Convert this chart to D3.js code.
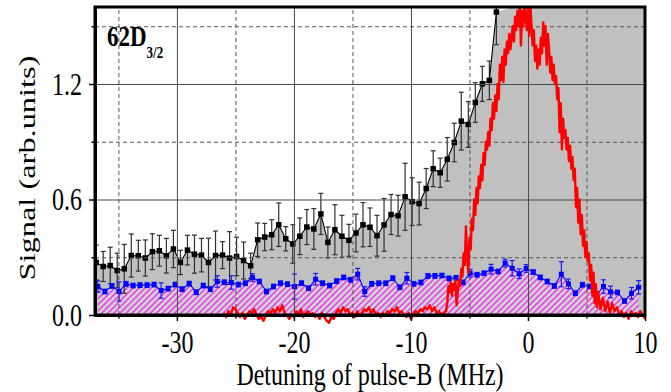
<!DOCTYPE html>
<html lang="en">
<head>
    <meta charset="UTF-8">
    <title>62D3/2 signal vs detuning</title>
    <script src="https://cdn.jsdelivr.net/npm/d3@7/dist/d3.min.js"></script>
    <style>
        body { margin: 0; background: #fff; }
        svg text { font-family: "Liberation Serif", "Times New Roman", serif; fill: #000; }
        svg g.axis path, svg g.axis line { stroke: #000; }
        svg g.axis path { stroke-width: 3; }
        svg g.axis line { stroke-width: 1.5; }
        svg g.axis text { font-size: 24px; font-family: "Liberation Serif", serif; }
        svg g.grid path { display: none; }
        /* the original figure is a bit taller than wide, text included */
        svg text.stretch { transform-box: fill-box; transform-origin: center; transform: scaleY(1.3); }
    </style>
</head>
<body>
<script>
    //black series (squares with error bars)
    var blackX = [-36.9,-36.3,-35.7,-35.1,-34.5,-33.9,-33.3,-32.7,-32.1,-31.5,
                  -30.9,-30.3,-29.7,-29.1,-28.5,-27.9,-27.3,-26.7,-26.1,-25.5,
                  -24.9,-24.3,-23.7,-23.1,-22.5,-21.9,-21.3,-20.7,-20.1,-19.5,
                  -18.9,-18.3,-17.7,-17.1,-16.5,-15.9,-15.3,-14.7,-14.1,-13.5,
                  -12.9,-12.3,-11.7,-11.1,-10.5,-9.9,-9.3,-8.7,-8.1,-7.5,
                  -6.9,-6.3,-5.7,-5.1,-4.5,-3.9,-3.3,-2.7];
    var blackY = [0.273,0.252,0.257,0.231,0.240,0.309,0.308,0.296,0.329,0.334,
                  0.308,0.343,0.273,0.337,0.316,0.311,0.273,0.309,0.311,0.296,
                  0.304,0.283,0.256,0.391,0.405,0.417,0.469,0.396,0.369,0.409,
                  0.457,0.447,0.525,0.377,0.443,0.409,0.388,0.426,0.469,0.456,
                  0.412,0.468,0.522,0.516,0.614,0.589,0.579,0.657,0.760,0.739,
                  0.809,0.896,1.007,0.990,1.104,1.201,1.219,1.574];
    var blackErr = [0.09,0.078,0.095,0.09,0.127,0.112,0.08,0.094,0.093,0.08,
                    0.09,0.097,0.063,0.077,0.099,0.087,0.126,0.127,0.07,0.137,
                    0.10,0.096,0.065,0.087,0.071,0.078,0.113,0.063,0.10,0.095,
                    0.091,0.106,0.107,0.08,0.13,0.109,0.083,0.098,0.115,0.10,
                    0.106,0.137,0.104,0.106,0.174,0.124,0.111,0.104,0.093,0.076,
                    0.113,0.10,0.15,0.119,0.103,0.091,0.10,0.17];

    //blue series
    var blueX = [-36.75,-36.15,-35.55,-34.95,-34.35,-33.75,-33.15,-32.55,-31.95,-31.35,
                 -30.75,-30.15,-29.55,-28.95,-28.35,-27.75,-27.15,-26.55,-25.95,-25.35,
                 -24.75,-24.15,-23.55,-22.95,-22.35,-21.75,-21.15,-20.55,-19.95,-19.35,
                 -18.75,-18.15,-17.55,-16.95,-16.35,-15.75,-15.15,-14.55,-13.95,-13.35,
                 -12.75,-12.15,-11.55,-10.95,-10.35,-9.75,-9.15,-8.55,-7.95,-7.35,
                 -6.75,-6.15,-5.55,-4.95,-4.35,-3.75,-3.15,-2.55,-1.95,-1.35,
                 -0.75,-0.15,0.45,1.05,1.65,2.25,2.85,3.45,4.05,4.65,
                 5.25,5.85,6.45,7.05,7.65,8.25,8.85,9.45];
    var blueY = [0.148,0.122,0.151,0.122,0.162,0.153,0.155,0.155,0.158,0.127,
                 0.137,0.158,0.134,0.163,0.118,0.153,0.134,0.174,0.170,0.169,
                 0.158,0.165,0.195,0.174,0.122,0.148,0.165,0.160,0.148,0.165,
                 0.139,0.186,0.165,0.153,0.176,0.195,0.183,0.212,0.122,0.162,
                 0.165,0.165,0.191,0.144,0.191,0.162,0.169,0.203,0.203,0.205,
                 0.190,0.193,0.169,0.217,0.209,0.217,0.238,0.226,0.270,0.243,
                 0.214,0.242,0.223,0.195,0.174,0.151,0.212,0.162,0.113,0.157,
                 0.148,0.103,0.148,0.120,0.117,0.073,0.113,0.144];
    var blueErr = [0.03,0.012,0.012,0.05,0.012,0.012,0.012,0.012,0.012,0.04,
                   0.012,0.012,0.012,0.012,0.012,0.012,0.012,0.03,0.012,0.035,
                   0.012,0.012,0.02,0.012,0.012,0.012,0.012,0.012,0.065,0.012,
                   0.012,0.03,0.012,0.012,0.012,0.012,0.012,0.03,0.025,0.012,
                   0.012,0.012,0.012,0.012,0.03,0.012,0.012,0.012,0.012,0.012,
                   0.012,0.012,0.012,0.02,0.012,0.012,0.025,0.012,0.02,0.04,
                   0.025,0.02,0.012,0.012,0.012,0.012,0.065,0.025,0.012,0.012,
                   0.012,0.012,0.035,0.03,0.012,0.012,0.03,0.035];

    //red trace: coarse sampling on the flat parts, finer over the peak
    var redX = [-26.0,-25.8,-25.6,-25.4,-25.2,-25.0,-24.8,-24.6,-24.4,-24.2,
                -24.0,-23.8,-23.6,-23.4,-23.2,-23.0,-22.8,-22.6,-22.4,-22.2,
                -22.0,-21.8,-21.6,-21.4,-21.2,-21.0,-20.8,-20.6,-20.4,-20.2,
                -20.0,-19.8,-19.6,-19.4,-19.2,-19.0,-18.8,-18.6,-18.4,-18.2,
                -18.0,-17.8,-17.6,-17.4,-17.2,-17.0,-16.8,-16.6,-16.4,-16.2,
                -16.0,-15.8,-15.6,-15.4,-15.2,-15.0,-14.8,-14.6,-14.4,-14.2,
                -14.0,-13.8,-13.6,-13.4,-13.2,-13.0,-12.8,-12.6,-12.4,-12.2,
                -12.0,-11.8,-11.6,-11.4,-11.2,-11.0,-10.8,-10.6,-10.4,-10.2,
                -10.0,-9.8,-9.6,-9.4,-9.2,-9.0,-8.8,-8.6,-8.4,-8.2,
                -8.0,-7.8,-7.6,-7.4,-7.2,
                -7.0,-6.9,-6.8,-6.7,-6.6,-6.5,-6.4,-6.3,-6.2,-6.1,
                -6.0,-5.9,-5.8,-5.7,-5.6,-5.5,-5.4,-5.3,-5.2,-5.1,
                -5.0,-4.9,-4.8,-4.7,-4.6,-4.5,-4.4,-4.3,-4.2,-4.1,
                -4.0,-3.9,-3.8,-3.7,-3.6,-3.5,-3.4,-3.3,-3.2,-3.1,
                -3.0,-2.9,-2.8,-2.7,-2.6,-2.5,-2.4,-2.3,-2.2,-2.1,
                -2.0,-1.9,-1.8,-1.7,-1.6,-1.5,-1.4,-1.3,-1.2,-1.1,
                -1.0,-0.9,-0.8,-0.7,-0.6,-0.5,-0.4,-0.3,-0.2,-0.1,
                0.0,0.1,0.2,0.3,0.4,0.5,0.6,0.7,0.8,0.9,
                1.0,1.1,1.2,1.3,1.4,1.5,1.6,1.7,1.8,1.9,
                2.0,2.1,2.2,2.3,2.4,2.5,2.6,2.7,2.8,2.9,
                3.0,3.1,3.2,3.3,3.4,3.5,3.6,3.7,3.8,3.9,
                4.0,4.1,4.2,4.3,4.4,4.5,4.6,4.7,4.8,4.9,
                5.0,5.1,5.2,5.3,5.4,5.5,5.6,5.7,5.8,5.9,
                6.0,
                6.2,6.4,6.6,6.8,7.0,7.2,7.4,7.6,7.8,8.0,
                8.2,8.4,8.6,8.8,9.0,9.2,9.4,9.6,9.8,10.0];
    var redY = [0.01,-0.01,0.02,0.00,0.04,0.03,0.01,-0.01,0.01,-0.02,
                0.00,0.02,0.01,0.03,0.00,-0.02,-0.01,-0.03,0.00,0.02,
                0.01,0.03,0.01,0.04,0.02,0.05,0.01,0.00,-0.02,0.00,
                -0.01,0.02,0.00,0.03,-0.01,0.01,0.02,0.00,0.01,-0.01,
                0.00,-0.02,0.01,-0.01,-0.03,-0.04,-0.01,-0.02,0.01,0.03,
                0.01,0.04,0.02,0.03,0.00,0.01,-0.01,0.02,0.00,0.01,
                0.03,0.02,0.04,0.01,0.03,0.00,0.01,-0.01,0.01,0.00,
                0.02,0.01,0.03,0.02,0.04,0.01,0.02,0.00,-0.01,0.01,
                -0.02,0.00,0.02,0.01,0.03,0.02,0.04,0.03,0.05,0.02,
                0.04,0.01,0.02,0.00,0.01,
                0.02,0.06,0.15,0.12,0.17,0.10,0.16,0.13,0.18,0.05,
                0.12,0.18,0.15,0.24,0.20,0.32,0.26,0.46,0.30,0.22,
                0.40,0.34,0.50,0.44,0.60,0.52,0.66,0.58,0.72,0.66,
                0.78,0.70,0.84,0.78,0.90,0.86,0.95,0.88,1.02,0.96,
                1.10,1.02,1.14,1.06,1.20,1.12,1.30,1.22,1.34,1.21,
                1.38,1.30,1.42,1.36,1.46,1.38,1.44,1.50,1.42,1.55,
                1.48,1.58,1.50,1.62,1.40,1.58,1.50,1.62,1.55,1.48,
                1.60,1.45,1.62,1.50,1.40,1.48,1.32,1.40,1.28,1.38,
                1.30,1.44,1.36,1.52,1.40,1.50,1.30,1.46,1.38,1.26,
                1.34,1.22,1.30,1.20,1.24,1.12,1.18,0.95,1.10,0.86,
                1.02,0.92,0.96,0.86,0.92,0.80,0.88,0.76,0.82,0.70,
                0.76,0.56,0.66,0.48,0.60,0.42,0.52,0.36,0.44,0.30,
                0.38,0.28,0.32,0.18,0.26,0.10,0.22,0.06,0.16,0.04,
                0.12,
                0.03,0.09,0.02,0.07,0.01,0.06,0.02,0.04,0.00,0.02,
                -0.01,0.01,-0.02,0.02,0.00,0.01,-0.01,0.02,0.00,-0.02];

    //tick values
    var xMajor = [-30, -20, -10, 0, 10];
    var xMinor = [-35, -25, -15, -5, 5];
    var yMajor = [0, 0.6, 1.2];
    var yMinor = [0.3, 0.9, 1.5];

    //width, height and plot box
    var w = 671;
    var h = 392;
    var pLeft = 95, pRight = 645, pTop = 7, pBottom = 315;

    var xScale = d3.scaleLinear().domain([-37, 10]).range([pLeft, pRight]);
    var yScale = d3.scaleLinear().domain([0, 1.6]).range([pBottom, pTop]);

    var black = blackX.map(function(d, i) { return [d, blackY[i], blackErr[i]]; });
    var blue = blueX.map(function(d, i) { return [d, blueY[i], blueErr[i]]; });
    var red = redX.map(function(d, i) { return [d, redY[i]]; });

    var svg = d3.select('body')
                .append('svg')
                .attr('width', w)
                .attr('height', h);

    var defs = svg.append('defs');
    defs.append('clipPath').attr('id', 'plot')
        .append('rect')
        .attr('x', pLeft).attr('y', pTop)
        .attr('width', pRight - pLeft).attr('height', pBottom - pTop);
    //red trace may dip a bit under the axis
    defs.append('clipPath').attr('id', 'plotlow')
        .append('rect')
        .attr('x', pLeft).attr('y', pTop)
        .attr('width', pRight - pLeft).attr('height', pBottom - pTop + 14);

    //magenta hatch
    var pat = defs.append('pattern')
        .attr('id', 'hatch')
        .attr('patternUnits', 'userSpaceOnUse')
        .attr('width', 4.3).attr('height', 4.3)
        .attr('patternTransform', 'rotate(45)');
    pat.append('rect').attr('width', 4.3).attr('height', 4.3).attr('fill', '#d6d0d6');
    pat.append('line')
        .attr('x1', 1).attr('y1', 0).attr('x2', 1).attr('y2', 4.3)
        .attr('stroke', '#e23ce2').attr('stroke-width', 1.5);

    var plot = svg.append('g').attr('clip-path', 'url(#plot)');

    //gray area under black points, running off the top after the last one
    var grayData = black.map(function(d) { return [d[0], d[1]]; });
    grayData.push([xScale.domain()[1], yScale.domain()[1] + 0.2]);
    plot.append('path')
        .datum(grayData)
        .attr('fill', '#c0c0c0')
        .attr('d', d3.area()
            .x(function(d) { return xScale(d[0]); })
            .y0(pBottom)
            .y1(function(d) { return yScale(d[1]); }));

    //hatched area under the blue points
    plot.append('path')
        .datum(blue)
        .attr('fill', 'url(#hatch)')
        .attr('d', d3.area()
            .x(function(d) { return xScale(d[0]); })
            .y0(pBottom)
            .y1(function(d) { return yScale(d[1]); }));

    //grid
    svg.append('g').attr('class', 'grid')
        .attr('transform', 'translate(0,' + pBottom + ')')
        .call(d3.axisBottom(xScale).tickValues(xMajor).tickSize(-(pBottom - pTop)).tickFormat(''))
        .selectAll('line').attr('stroke', '#4a4a4a').attr('stroke-width', 1);
    svg.append('g').attr('class', 'grid')
        .attr('transform', 'translate(0,' + pBottom + ')')
        .call(d3.axisBottom(xScale).tickValues(xMinor).tickSize(-(pBottom - pTop)).tickFormat(''))
        .selectAll('line').attr('stroke', '#555').attr('stroke-dasharray', '4,3');
    svg.append('g').attr('class', 'grid')
        .attr('transform', 'translate(' + pLeft + ',0)')
        .call(d3.axisLeft(yScale).tickValues(yMajor).tickSize(-(pRight - pLeft)).tickFormat(''))
        .selectAll('line').attr('stroke', '#4a4a4a').attr('stroke-width', 1);
    svg.append('g').attr('class', 'grid')
        .attr('transform', 'translate(' + pLeft + ',0)')
        .call(d3.axisLeft(yScale).tickValues(yMinor).tickSize(-(pRight - pLeft)).tickFormat(''))
        .selectAll('line').attr('stroke', '#555').attr('stroke-dasharray', '4,3');

    var line = d3.line()
        .x(function(d) { return xScale(d[0]); })
        .y(function(d) { return yScale(d[1]); });

    //draws one series with error bars and square markers
    function series(data, color, barColor, size) {
        var g = plot.append('g');
        var bars = g.selectAll('g.bar').data(data).enter().append('g')
            .attr('stroke', barColor).attr('stroke-width', 1.2);
        bars.append('line')
            .attr('x1', function(d) { return xScale(d[0]); })
            .attr('x2', function(d) { return xScale(d[0]); })
            .attr('y1', function(d) { return yScale(d[1] - d[2]); })
            .attr('y2', function(d) { return yScale(d[1] + d[2]); });
        [-1, 1].forEach(function(s) {
            bars.append('line')
                .attr('x1', function(d) { return xScale(d[0]) - 2.5; })
                .attr('x2', function(d) { return xScale(d[0]) + 2.5; })
                .attr('y1', function(d) { return yScale(d[1] + s * d[2]); })
                .attr('y2', function(d) { return yScale(d[1] + s * d[2]); });
        });
        g.append('path').datum(data)
            .attr('fill', 'none').attr('stroke', color).attr('stroke-width', 1.1)
            .attr('d', line);
        g.selectAll('rect').data(data).enter().append('rect')
            .attr('x', function(d) { return xScale(d[0]) - size / 2; })
            .attr('y', function(d) { return yScale(d[1]) - size / 2; })
            .attr('width', size).attr('height', size)
            .attr('fill', color);
    }

    series(black, '#000', '#303030', 5.5);

    //red trace
    svg.append('path')
        .datum(red)
        .attr('clip-path', 'url(#plotlow)')
        .attr('fill', 'none')
        .attr('stroke', '#ff0000')
        .attr('stroke-width', 2.4)
        .attr('stroke-linejoin', 'round')
        .attr('d', line);

    series(blue, '#0000ff', '#1a1aff', 5);

    //frame
    svg.append('rect')
        .attr('x', pLeft).attr('y', pTop)
        .attr('width', pRight - pLeft).attr('height', pBottom - pTop)
        .attr('fill', 'none').attr('stroke', '#000').attr('stroke-width', 3);

    //axes: major with labels (plain hyphen minus), minor without
    var plainNum = function(d) { return String(d); };
    svg.append('g').attr('class', 'axis')
        .attr('transform', 'translate(0,' + pBottom + ')')
        .call(d3.axisBottom(xScale).tickValues(xMajor).tickSize(6).tickPadding(13)
            .tickFormat(plainNum).tickSizeOuter(0))
        .selectAll('text').attr('class', 'stretch');
    svg.append('g').attr('class', 'axis')
        .attr('transform', 'translate(0,' + pBottom + ')')
        .call(d3.axisBottom(xScale).tickValues(xMinor).tickSize(3.5).tickFormat('').tickSizeOuter(0));
    svg.append('g').attr('class', 'axis')
        .attr('transform', 'translate(' + pLeft + ',0)')
        .call(d3.axisLeft(yScale).tickValues(yMajor).tickSize(6).tickPadding(7)
            .tickFormat(d3.format('.1f')).tickSizeOuter(0))
        .selectAll('text').attr('class', 'stretch');
    svg.append('g').attr('class', 'axis')
        .attr('transform', 'translate(' + pLeft + ',0)')
        .call(d3.axisLeft(yScale).tickValues(yMinor).tickSize(3.5).tickFormat('').tickSizeOuter(0));

    //axis titles
    svg.append('text')
        .attr('class', 'stretch')
        .attr('x', (pLeft + pRight) / 2).attr('y', 383)
        .attr('text-anchor', 'middle')
        .attr('font-size', '24px')
        .text('Detuning of pulse-B (MHz)');
    svg.append('text')
        .attr('transform', 'translate(35,168) scale(1,1.35) rotate(-90)')
        .attr('text-anchor', 'middle')
        .attr('font-size', '24px')
        .text('Signal (arb.units)');

    //state label
    var lab = svg.append('text')
        .attr('class', 'stretch')
        .attr('x', 107).attr('y', 45)
        .attr('font-weight', 'bold')
        .attr('font-size', '23px');
    lab.append('tspan').text('62D');
    lab.append('tspan').attr('dy', 9).attr('font-size', '13px').text('3/2');
</script>
</body>
</html>
